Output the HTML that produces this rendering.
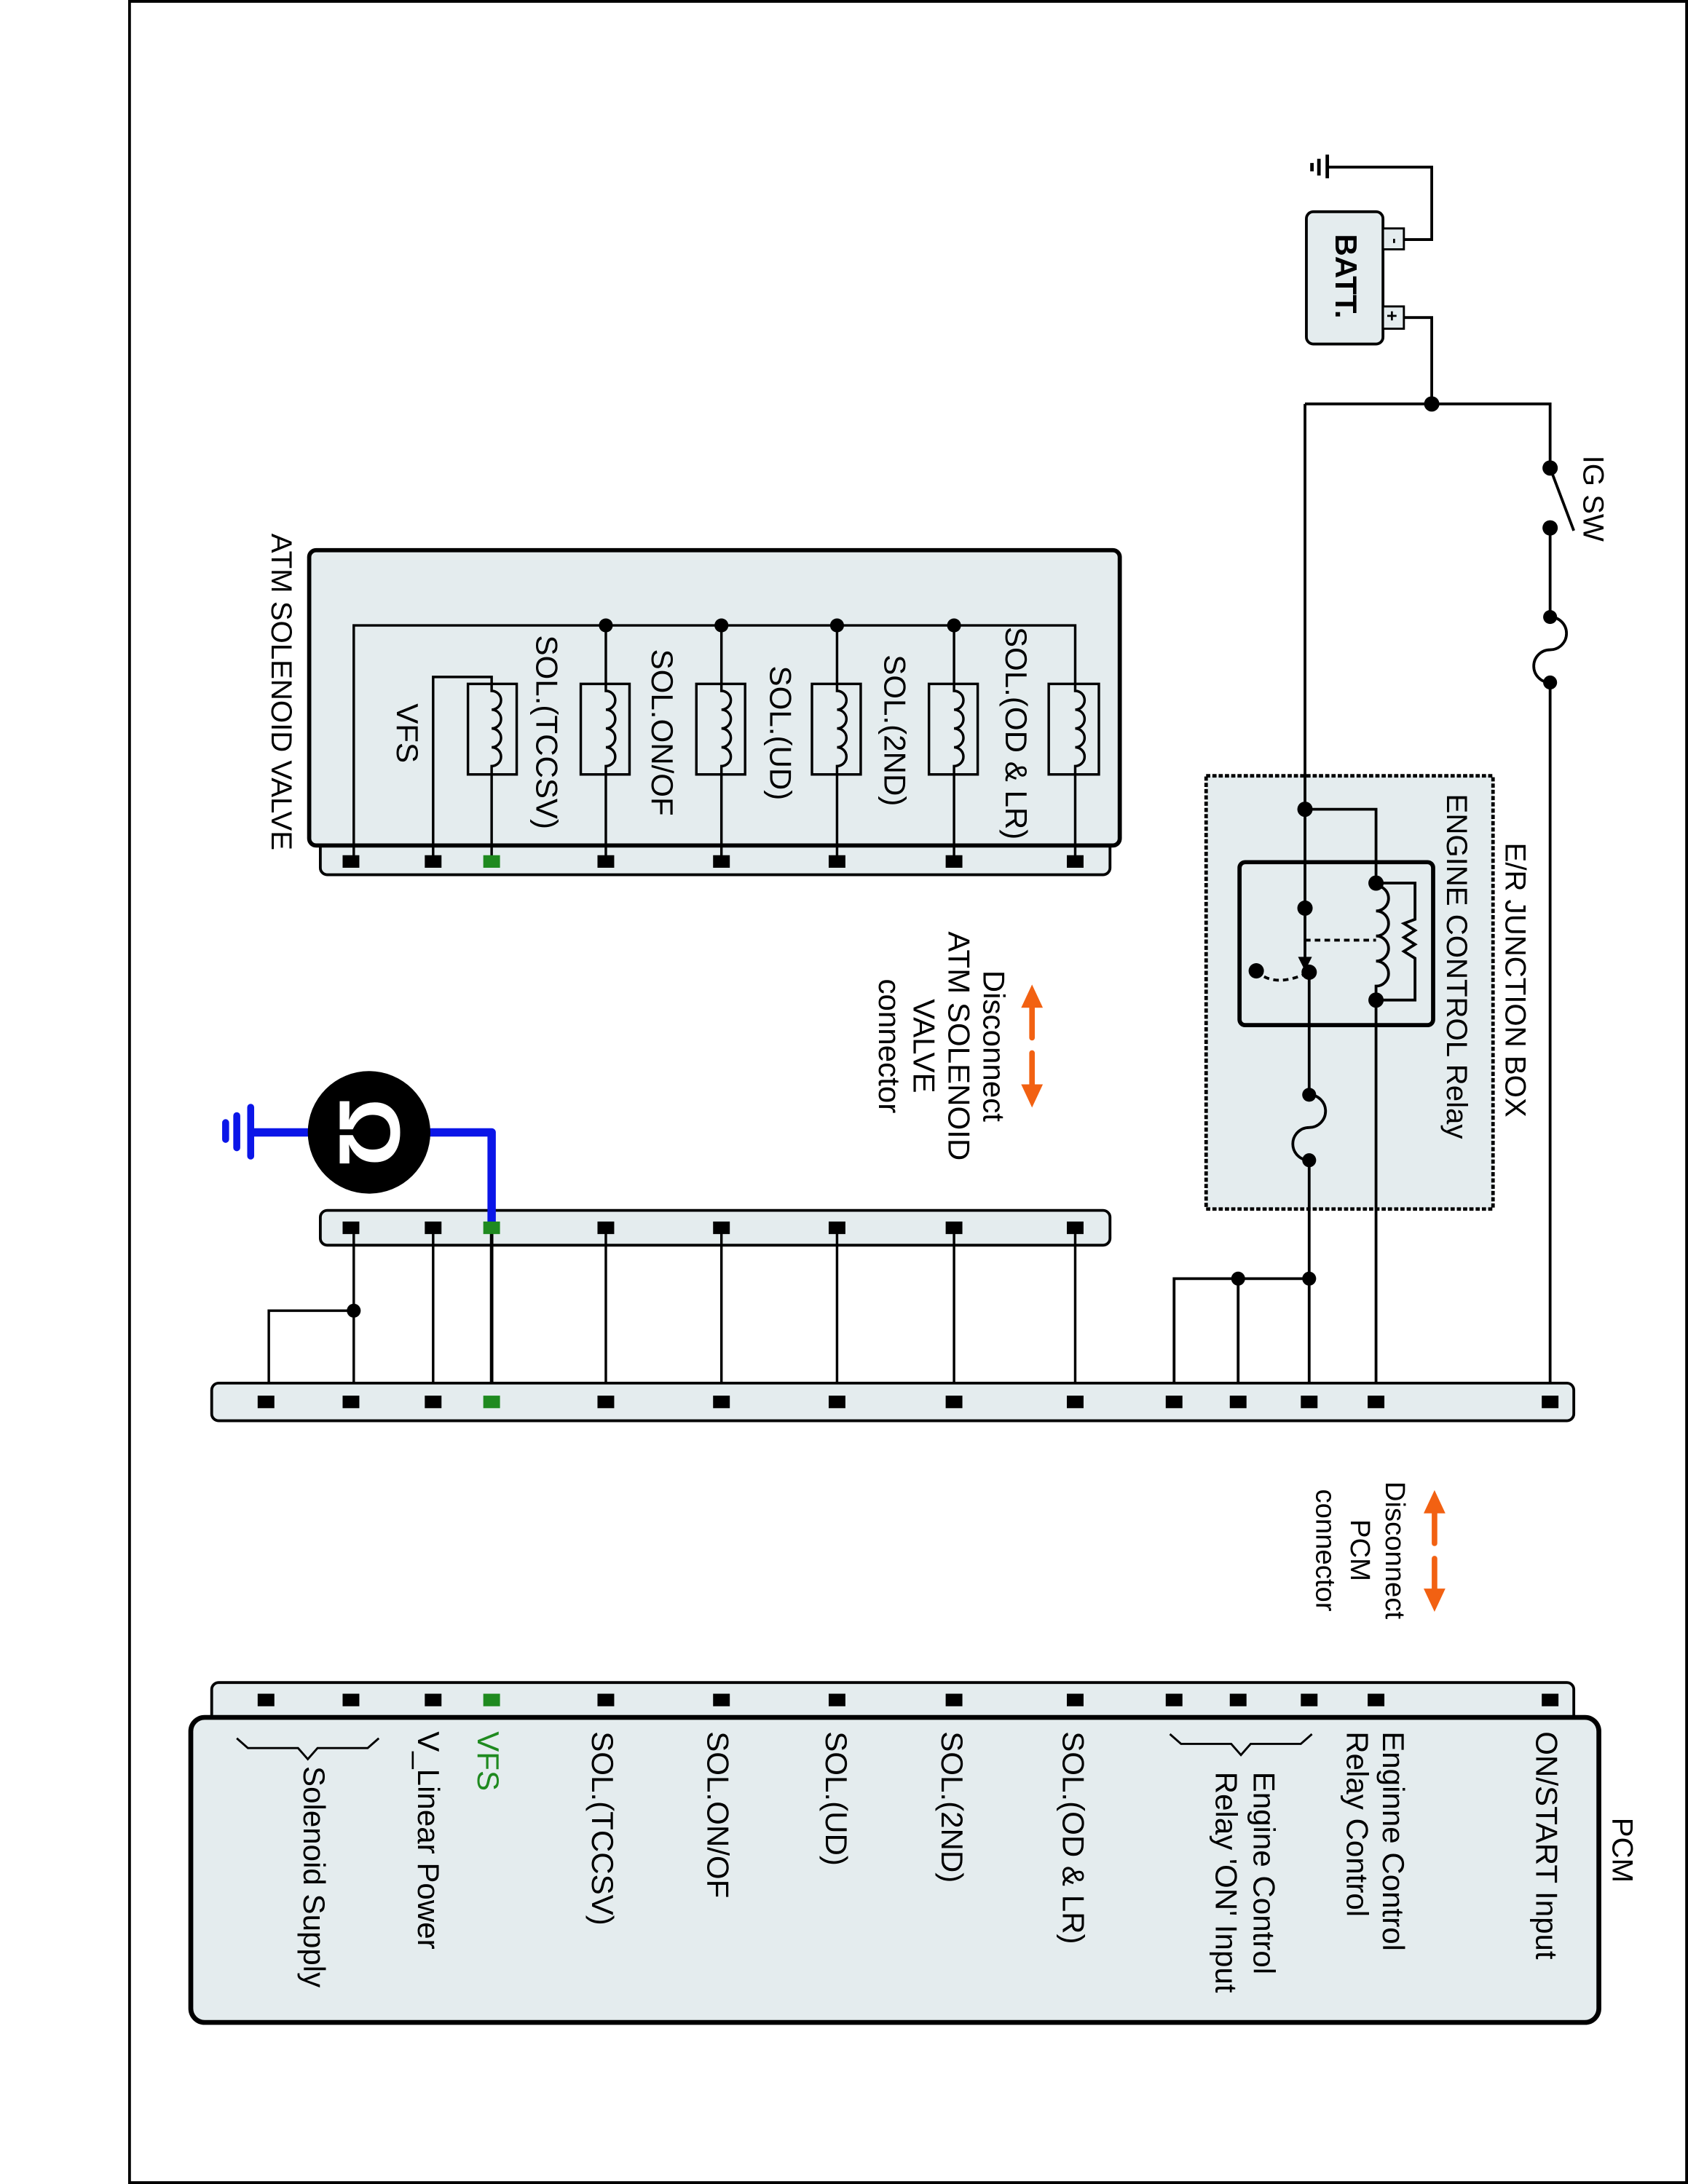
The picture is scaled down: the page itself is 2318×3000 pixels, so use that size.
<!DOCTYPE html>
<html><head><meta charset="utf-8"><style>
html,body{margin:0;padding:0;background:#fff}
svg{display:block}
text{font-family:"Liberation Sans",Arial,sans-serif;font-size:22px;fill:#000}
</style></head><body>
<svg width="2318" height="3000" viewBox="0 0 1212 1568" preserveAspectRatio="none" xmlns="http://www.w3.org/2000/svg">
<rect x="93" y="1" width="1118" height="1566" fill="#fff" stroke="#000" stroke-width="2"/>
<g stroke="#000" stroke-width="2" fill="none">
<!-- ground at battery -->
<path d="M953,120 H1028 V172 H1008"/>
<path d="M953,111 V128 M947,114 V126 M942,117 V123" stroke-width="2.5"/>
<path d="M1008,228 H1028 V290"/>
<path d="M937,290 H1113 V336"/>
<path d="M1113,336 L1130,381"/>
<path d="M1113,379 V443"/>
<path d="M1113,443 a11.75,11.75 0 0 1 0,23.5 a11.75,11.75 0 0 0 0,23.5"/>
<path d="M1113,490 V1007"/>
</g>
<rect x="938" y="152" width="55" height="95" rx="5" fill="#e4ecee" stroke="#000" stroke-width="2"/>
<rect x="993" y="164" width="15" height="15" fill="#e4ecee" stroke="#000" stroke-width="1.5"/>
<rect x="993" y="220" width="15" height="16" fill="#e4ecee" stroke="#000" stroke-width="1.5"/>
<text transform="translate(998,171) rotate(90)" font-size="10" style="font-size:12px;font-weight:bold">-</text>
<text transform="translate(995,223) rotate(90)" style="font-size:13px;font-weight:bold">+</text>
<text transform="translate(959,168) rotate(90)" style="font-size:22px;font-weight:bold">BATT.</text>
<text transform="translate(1137,327) rotate(90)" style="font-size:21px">IG SW</text>

<!-- JB -->
<rect x="866" y="557" width="206" height="311" fill="#e4ecee" stroke="#000" stroke-width="2.5" stroke-dasharray="3,1.5"/>
<text transform="translate(1081,605) rotate(90)" style="font-size:21px">E/R JUNCTION BOX</text>
<text transform="translate(1039,570) rotate(90)" style="font-size:21px">ENGINE CONTROL Relay</text>
<rect x="890" y="619" width="139" height="117" rx="4" fill="none" stroke="#000" stroke-width="3"/>
<g stroke="#000" stroke-width="2" fill="none">
<path d="M937,290 V690"/>
<path d="M937,581 H988 V636"/>
<path d="M988,636 a7,7 0 0 1 0,18 a7,7 0 0 1 0,18 a7,7 0 0 1 0,18 a7,7 0 0 1 0,18 V1007"/>
<path d="M988,634 H1016 V660 L1008,663 L1016,668 L1008,673 L1016,678 L1008,683 L1016,688 V718 H988"/>
<path d="M937,675 H988" stroke-dasharray="4,3"/>
<path d="M902,697 Q915,710 940,698" stroke-dasharray="4,3"/>
<path d="M940,698 V786"/>
<path d="M940,786 a11.75,11.75 0 0 1 0,23.5 a11.75,11.75 0 0 0 0,23.5"/>
<path d="M940,833 V1007"/>
<path d="M843,1007 V918 H940 M889,918 V1007"/>
</g>
<path d="M932,687 L942,687 L937,697 Z" fill="#000"/>
<g fill="#000">
<circle cx="1028" cy="290" r="5.5"/><circle cx="1113" cy="336" r="5.5"/><circle cx="1113" cy="379" r="5.5"/>
<circle cx="1113" cy="443" r="5"/><circle cx="1113" cy="490" r="5"/>
<circle cx="937" cy="581" r="5.5"/><circle cx="988" cy="634" r="5.5"/><circle cx="988" cy="718" r="5.5"/>
<circle cx="937" cy="652" r="5.5"/><circle cx="940" cy="698" r="5.5"/><circle cx="902" cy="697" r="5.5"/>
<circle cx="940" cy="786" r="5"/><circle cx="940" cy="833" r="5"/>
<circle cx="940" cy="918" r="5"/><circle cx="889" cy="918" r="5"/>
<circle cx="254" cy="941" r="5"/>
</g>

<!-- ATM solenoid valve -->
<rect x="230" y="600" width="567" height="28" rx="5" fill="#e4ecee" stroke="#000" stroke-width="2"/>
<rect x="222" y="395" width="582" height="212" rx="5" fill="#e4ecee" stroke="#000" stroke-width="3"/>
<text transform="translate(195,383) rotate(90)" style="font-size:21px">ATM SOLENOID VALVE</text>
<g stroke="#000" stroke-width="1.8" fill="none">
<path d="M254,619 V449 H772 V619"/>
<path d="M435,449 V619 M518,449 V619 M601,449 V619 M685,449 V619"/>
<path d="M311,619 V486 H353 V619"/>
<g stroke-width="1.8" fill="#e4ecee">
<rect x="336" y="491" width="35" height="65"/><rect x="417" y="491" width="35" height="65"/>
<rect x="500" y="491" width="35" height="65"/><rect x="583" y="491" width="35" height="65"/>
<rect x="667" y="491" width="35" height="65"/><rect x="753" y="491" width="36" height="65"/>
</g>
<path d="M353,491 V496 a6,6 0 0 1 0,13.5 a6,6 0 0 1 0,13.5 a6,6 0 0 1 0,13.5 a6,6 0 0 1 0,13.5 V556"/>
<path d="M435,491 V496 a6,6 0 0 1 0,13.5 a6,6 0 0 1 0,13.5 a6,6 0 0 1 0,13.5 a6,6 0 0 1 0,13.5 V556"/>
<path d="M518,491 V496 a6,6 0 0 1 0,13.5 a6,6 0 0 1 0,13.5 a6,6 0 0 1 0,13.5 a6,6 0 0 1 0,13.5 V556"/>
<path d="M601,491 V496 a6,6 0 0 1 0,13.5 a6,6 0 0 1 0,13.5 a6,6 0 0 1 0,13.5 a6,6 0 0 1 0,13.5 V556"/>
<path d="M685,491 V496 a6,6 0 0 1 0,13.5 a6,6 0 0 1 0,13.5 a6,6 0 0 1 0,13.5 a6,6 0 0 1 0,13.5 V556"/>
<path d="M772,491 V496 a6,6 0 0 1 0,13.5 a6,6 0 0 1 0,13.5 a6,6 0 0 1 0,13.5 a6,6 0 0 1 0,13.5 V556"/>
</g>
<g fill="#000"><circle cx="435" cy="449" r="5"/><circle cx="518" cy="449" r="5"/><circle cx="601" cy="449" r="5"/><circle cx="685" cy="449" r="5"/></g>
<text transform="translate(722,450) rotate(90)">SOL.(OD &amp; LR)</text>
<text transform="translate(635,470) rotate(90)">SOL.(2ND)</text>
<text transform="translate(553,478) rotate(90)">SOL.(UD)</text>
<text transform="translate(468,466) rotate(90)">SOL.ON/OF</text>
<text transform="translate(385,456) rotate(90)">SOL.(TCCSV)</text>
<text transform="translate(285,505) rotate(90)">VFS</text>

<!-- ATM disconnect -->
<g fill="#f26112" stroke="#f26112" stroke-linecap="round">
<path d="M741,722 V745" stroke-width="4"/><path d="M741,756 V780" stroke-width="4"/>
<path d="M734,723 L741,708 L748,723 Z" stroke-width="1"/><path d="M734,779 L741,794 L748,779 Z" stroke-width="1"/>
</g>
<g text-anchor="middle" style="font-size:20px">
<text transform="translate(706,751) rotate(90)" text-anchor="middle">Disconnect</text>
<text transform="translate(681,751) rotate(90)" text-anchor="middle">ATM SOLENOID</text>
<text transform="translate(656,751) rotate(90)" text-anchor="middle">VALVE</text>
<text transform="translate(631,751) rotate(90)" text-anchor="middle">connector</text>
</g>

<!-- harness connector mid -->
<rect x="230" y="869" width="567" height="25" rx="5" fill="#e4ecee" stroke="#000" stroke-width="2"/>
<g stroke="#000" stroke-width="1.8" fill="none">
<path d="M254,881 V1007 M254,941 H193 V1007 M311,881 V1007 M435,881 V1007 M518,881 V1007 M601,881 V1007 M685,881 V1007 M772,881 V1007"/>
<path d="M353,881 V1007" stroke-width="2.5"/>
</g>
<path d="M353,881 V813 H290" stroke="#0b16e8" stroke-width="6" fill="none" stroke-linejoin="round"/>
<path d="M240,813 H182" stroke="#0b16e8" stroke-width="6"/>
<path d="M180,795 V830 M170,801 V824 M162,806 V818" stroke="#0b16e8" stroke-width="5" stroke-linecap="round"/>
<circle cx="265" cy="813" r="44" fill="#000"/>
<text transform="translate(244,813) rotate(90)" text-anchor="middle" style="font-size:62px;font-weight:bold;fill:#fff">Ω</text>

<!-- PCM harness connector -->
<rect x="152" y="993" width="978" height="27" rx="5" fill="#e4ecee" stroke="#000" stroke-width="2"/>
<!-- PCM -->
<rect x="152" y="1208" width="978" height="40" rx="5" fill="#e4ecee" stroke="#000" stroke-width="2"/>
<rect x="137" y="1233" width="1011" height="219" rx="10" fill="#e4ecee" stroke="#000" stroke-width="3.5"/>

<g fill="#000">
<!-- ATM connector terminals -->
<rect x="246" y="614" width="12" height="9"/><rect x="305" y="614" width="12" height="9"/><rect x="347" y="614" width="12" height="9" fill="#1f8a1f"/>
<rect x="429" y="614" width="12" height="9"/><rect x="512" y="614" width="12" height="9"/><rect x="595" y="614" width="12" height="9"/><rect x="679" y="614" width="12" height="9"/><rect x="766" y="614" width="12" height="9"/>
<!-- mid -->
<rect x="246" y="877" width="12" height="9"/><rect x="305" y="877" width="12" height="9"/><rect x="347" y="877" width="12" height="9" fill="#1f8a1f"/>
<rect x="429" y="877" width="12" height="9"/><rect x="512" y="877" width="12" height="9"/><rect x="595" y="877" width="12" height="9"/><rect x="679" y="877" width="12" height="9"/><rect x="766" y="877" width="12" height="9"/>
<!-- harness -->
<rect x="185" y="1002" width="12" height="9"/><rect x="246" y="1002" width="12" height="9"/><rect x="305" y="1002" width="12" height="9"/><rect x="347" y="1002" width="12" height="9" fill="#1f8a1f"/>
<rect x="429" y="1002" width="12" height="9"/><rect x="512" y="1002" width="12" height="9"/><rect x="595" y="1002" width="12" height="9"/><rect x="679" y="1002" width="12" height="9"/><rect x="766" y="1002" width="12" height="9"/>
<rect x="837" y="1002" width="12" height="9"/><rect x="883" y="1002" width="12" height="9"/><rect x="934" y="1002" width="12" height="9"/><rect x="982" y="1002" width="12" height="9"/><rect x="1107" y="1002" width="12" height="9"/>
<!-- PCM -->
<rect x="185" y="1216" width="12" height="9"/><rect x="246" y="1216" width="12" height="9"/><rect x="305" y="1216" width="12" height="9"/><rect x="347" y="1216" width="12" height="9" fill="#1f8a1f"/>
<rect x="429" y="1216" width="12" height="9"/><rect x="512" y="1216" width="12" height="9"/><rect x="595" y="1216" width="12" height="9"/><rect x="679" y="1216" width="12" height="9"/><rect x="766" y="1216" width="12" height="9"/>
<rect x="837" y="1216" width="12" height="9"/><rect x="883" y="1216" width="12" height="9"/><rect x="934" y="1216" width="12" height="9"/><rect x="982" y="1216" width="12" height="9"/><rect x="1107" y="1216" width="12" height="9"/>
</g>

<!-- PCM disconnect -->
<g fill="#f26112" stroke="#f26112" stroke-linecap="round">
<path d="M1030,1085 V1108" stroke-width="4"/><path d="M1030,1119 V1142" stroke-width="4"/>
<path d="M1023,1086 L1030,1071 L1037,1086 Z" stroke-width="1"/><path d="M1023,1141 L1030,1156 L1037,1141 Z" stroke-width="1"/>
</g>
<text transform="translate(995,1113) rotate(90)" text-anchor="middle" style="font-size:20px">Disconnect</text>
<text transform="translate(970,1113) rotate(90)" text-anchor="middle" style="font-size:20px">PCM</text>
<text transform="translate(945,1113) rotate(90)" text-anchor="middle" style="font-size:20px">connector</text>

<text transform="translate(1158,1305) rotate(90)" style="font-size:21px">PCM</text>
<text transform="translate(1103,1243) rotate(90)">ON/START Input</text>
<text transform="translate(993,1243) rotate(90)">Enginne Control</text>
<text transform="translate(967,1243) rotate(90)">Relay Control</text>
<text transform="translate(900,1272) rotate(90)">Engine Control</text>
<text transform="translate(873,1272) rotate(90)">Relay 'ON' Input</text>
<text transform="translate(763,1243) rotate(90)">SOL.(OD &amp; LR)</text>
<text transform="translate(676,1243) rotate(90)">SOL.(2ND)</text>
<text transform="translate(593,1243) rotate(90)">SOL.(UD)</text>
<text transform="translate(508,1243) rotate(90)">SOL.ON/OF</text>
<text transform="translate(425,1243) rotate(90)">SOL.(TCCSV)</text>
<text transform="translate(343,1243) rotate(90)" style="fill:#1f8a1f">VFS</text>
<text transform="translate(300,1243) rotate(90)">V_Linear Power</text>
<text transform="translate(218,1268) rotate(90)">Solenoid Supply</text>
<g stroke="#000" stroke-width="1.5" fill="none">
<path d="M942,1245 L934,1252 H898 L891,1260 L884,1252 H848 L840,1245"/>
<path d="M272,1248 L264,1255 H228 L221,1263 L214,1255 H178 L170,1248"/>
</g>
</svg>
</body></html>
